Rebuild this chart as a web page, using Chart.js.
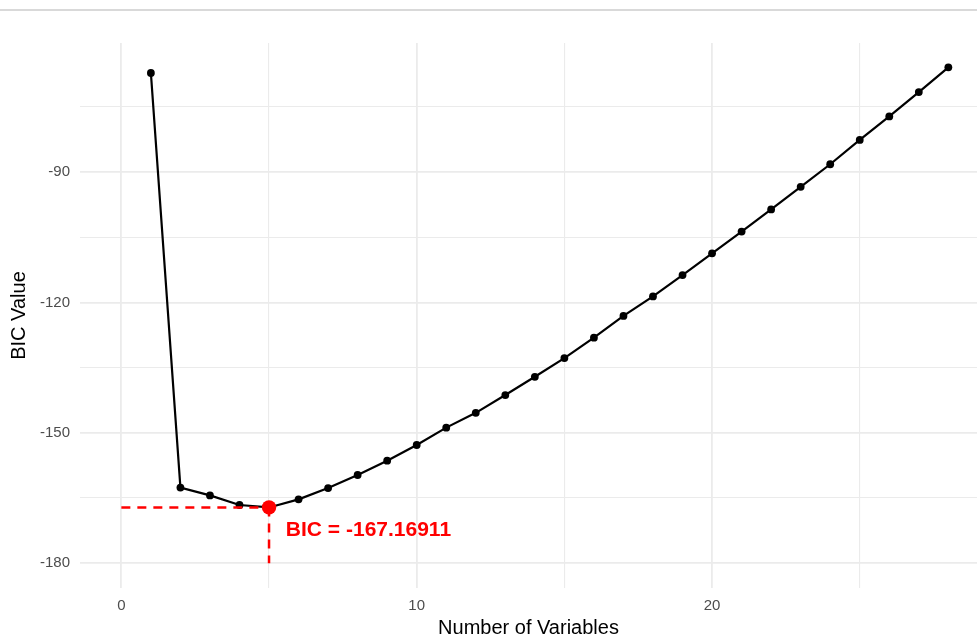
<!DOCTYPE html>
<html>
<head>
<meta charset="utf-8">
<title>BIC by number of variables</title>
<script src="https://cdn.jsdelivr.net/npm/chart.js@4.4.1/dist/chart.umd.min.js"></script>
<style>
    html, body { margin: 0; padding: 0; background: #ffffff; }
    #wrap { position: relative; width: 977px; height: 637px; overflow: hidden; }
    #topRule { position: absolute; left: 0; top: 9px; width: 977px; height: 2px; background: #d9d9d9; }
    #bicChart { position: absolute; left: 0; top: 0; }
</style>
</head>
<body>
<div id="wrap">
    <div id="topRule"></div>
    <canvas id="bicChart" width="977" height="637"></canvas>
</div>
<script>
'use strict';

/* ── Data ────────────────────────────────────────────────────────────────── */

const nVars = [1, 2, 3, 4, 5, 6, 7, 8, 9, 10, 11, 12, 13, 14,
               15, 16, 17, 18, 19, 20, 21, 22, 23, 24, 25, 26, 27, 28];
const bicValues = [-67.2, -162.6, -164.4, -166.6, -167.16911, -165.3, -162.7,
                   -159.7, -156.4, -152.8, -148.8, -145.4, -141.3, -137.1,
                   -132.8, -128.1, -123.1, -118.6, -113.7, -108.7, -103.7,
                   -98.6, -93.4, -88.2, -82.6, -77.2, -71.6, -65.9];

const bestN = 5;
const bestBIC = -167.16911;
const guideFloor = -180;
const bicLabel = 'BIC = -167.16911';

const xTicks = [0, 5, 10, 15, 20, 25];
const yTicks = [-180, -165, -150, -135, -120, -105, -90, -75];

/* ── Style bits ─────────────────────────────────────────────────────────── */

const FONT = '"Liberation Sans", Arial, Helvetica, sans-serif';
const GRID = '#ebebeb';
const RED = '#ff0000';

// major gridlines a bit heavier than the minor ones (ggplot style)
const xGridWidth = ctx => (ctx.tick && ctx.tick.value % 10 === 0 ? 1.8 : 1.1);
const yGridWidth = ctx => (ctx.tick && ctx.tick.value % 30 === 0 ? 1.8 : 1.1);

// red text next to the minimum
const bicLabelPlugin = {
    id: 'bicLabel',
    afterDatasetsDraw(chart) {
        const { ctx, scales } = chart;
        const px = scales.x.getPixelForValue(bestN + 0.57);
        const py = scales.y.getPixelForValue(bestBIC - 5.25);
        ctx.save();
        ctx.font = 'bold 21px ' + FONT;
        ctx.fillStyle = RED;
        ctx.textAlign = 'left';
        ctx.textBaseline = 'middle';
        ctx.fillText(bicLabel, px, py);
        ctx.restore();
    },
};

const ctxBic = document.getElementById('bicChart').getContext('2d');
new Chart(ctxBic, {
    type: 'scatter',
    data: {
        datasets: [
            {
                label: 'best',
                data: [{ x: bestN, y: bestBIC }],
                pointRadius: 7.2,
                pointBackgroundColor: RED,
                pointBorderWidth: 0,
                order: 0,
            },
            {
                label: 'hguide',
                data: [{ x: 0, y: bestBIC }, { x: bestN, y: bestBIC }],
                showLine: true,
                borderColor: RED,
                borderWidth: 2.5,
                borderDash: [9, 7],
                pointRadius: 0,
                order: 1,
            },
            {
                label: 'vguide',
                data: [{ x: bestN, y: bestBIC }, { x: bestN, y: guideFloor }],
                showLine: true,
                borderColor: RED,
                borderWidth: 2.5,
                borderDash: [9, 7],
                pointRadius: 0,
                order: 1,
            },
            {
                label: 'BIC',
                data: nVars.map((n, i) => ({ x: n, y: bicValues[i] })),
                showLine: true,
                borderColor: '#000000',
                borderWidth: 2.2,
                pointRadius: 3.9,
                pointBackgroundColor: '#000000',
                pointBorderWidth: 0,
                order: 2,
            },
        ],
    },
    options: {
        responsive: false,
        animation: false,
        layout: { autoPadding: false, padding: { top: 43, right: 0, bottom: 0, left: 0 } },
        plugins: {
            legend: { display: false },
            tooltip: { enabled: false },
        },
        scales: {
            x: {
                type: 'linear',
                min: -1.4,
                max: 28.97,
                afterBuildTicks: s => { s.ticks = xTicks.map(v => ({ value: v })); },
                afterFit: s => { s.height = 49; },
                border: { display: false },
                grid: { color: GRID, lineWidth: xGridWidth, drawTicks: false },
                ticks: {
                    padding: 9,
                    maxRotation: 0,
                    color: '#4d4d4d',
                    font: { family: FONT, size: 15 },
                    callback: v => (v % 10 === 0 ? v : ''),
                },
                title: {
                    display: true,
                    text: 'Number of Variables',
                    color: '#000000',
                    font: { family: FONT, size: 20 },
                    padding: { top: 0, bottom: -3 },
                },
            },
            y: {
                type: 'linear',
                min: -185.7,
                max: -60.3,
                afterBuildTicks: s => { s.ticks = yTicks.map(v => ({ value: v })); },
                afterFit: s => { s.width = 80; },
                border: { display: false },
                grid: { color: GRID, lineWidth: yGridWidth, drawTicks: false },
                ticks: {
                    padding: 10,
                    color: '#4d4d4d',
                    font: { family: FONT, size: 15 },
                    callback: v => (v % 30 === 0 ? v : ''),
                },
                title: {
                    display: true,
                    text: 'BIC Value',
                    color: '#000000',
                    font: { family: FONT, size: 20 },
                    padding: { top: 7, bottom: 0 },
                },
            },
        },
    },
    plugins: [bicLabelPlugin],
});
</script>
</body>
</html>
